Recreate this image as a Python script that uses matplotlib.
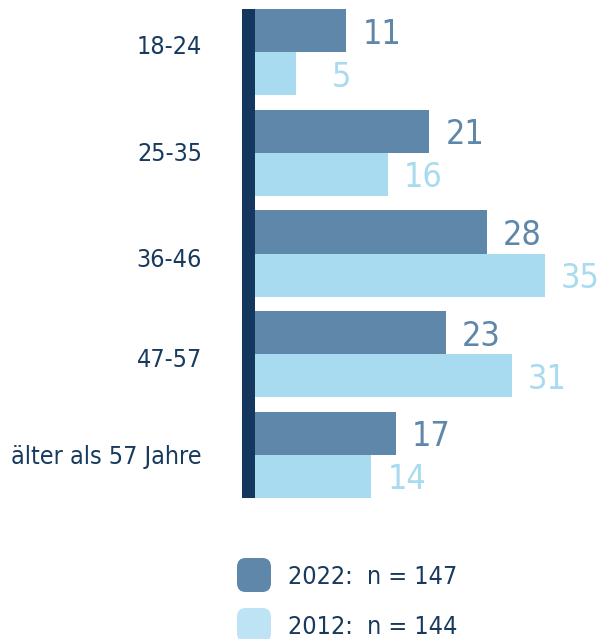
import matplotlib
matplotlib.use("Agg")
import matplotlib.pyplot as plt
from matplotlib.patches import Rectangle, FancyBboxPatch

plt.rcParams['font.family'] = ['DejaVu Sans']
plt.rcParams['font.stretch'] = 'condensed'

groups = ["18-24", "25-35", "36-46", "47-57", "älter als 57 Jahre"]
vals_2022 = [11, 21, 28, 23, 17]
vals_2012 = [5, 16, 35, 31, 14]
legend_labels = ["2022:  n = 147", "2012:  n = 144"]

c_2022 = "#5f87aa"
c_2012 = "#a8daf0"
c_2012_key = "#bde3f5"
navy = "#13375d"
text_col = "#183a5e"

W, H = 610, 639
fig = plt.figure(figsize=(W / 100, H / 100), dpi=100)

# plot area: value 0 sits at x=255px, bars span y=9..498px
px_per_unit = 290 / 35
bar_h = 0.427
ax = fig.add_axes([255 / W, 1 - 498 / H, (W - 255) / W, 489 / H])
ax.set_xlim(0, (W - 255) / px_per_unit)
ax.set_ylim(4 + bar_h, -bar_h)
ax.axis("off")

ypos = list(range(len(groups)))
ax.barh([y - bar_h / 2 for y in ypos], vals_2022, height=bar_h, color=c_2022)
ax.barh([y + bar_h / 2 for y in ypos], vals_2012, height=bar_h, color=c_2012)

pt = 0.72  # points per pixel at 100 dpi

# value labels, right-aligned a fixed distance past the bar end
for y, v in zip(ypos, vals_2022):
    ax.annotate(str(v), (v, y - bar_h / 2), xytext=(55 * pt, 0), textcoords="offset points",
                ha="right", va="center_baseline", fontsize=24.5, color=c_2022, annotation_clip=False)
for y, v in zip(ypos, vals_2012):
    ax.annotate(str(v), (v, y + bar_h / 2), xytext=(55 * pt, 0), textcoords="offset points",
                ha="right", va="center_baseline", fontsize=24.5, color=c_2012, annotation_clip=False)

# category labels left of the axis bar (small vertical nudges, in px)
label_nudge = [8, 1, -4, -3, 0]
for y, g, dy in zip(ypos, groups, label_nudge):
    ax.annotate(g, (0, y), xytext=(-53 * pt, dy * pt), textcoords="offset points",
                ha="right", va="center_baseline", fontsize=18, color=text_col, annotation_clip=False)

# thick vertical axis bar
fig.add_artist(Rectangle((242 / W, 1 - 498 / H), 13 / W, 489 / H,
                         transform=fig.transFigure, color=navy, lw=0))

# legend with rounded keys
for i, (lab, col) in enumerate(zip(legend_labels, [c_2022, c_2012_key])):
    top = 557 + i * 50
    key = FancyBboxPatch((237 / W, 1 - (top + 35) / H), 34 / W, 34 / H,
                         boxstyle="round,pad=0,rounding_size=0.014",
                         transform=fig.transFigure, color=col, lw=0)
    fig.add_artist(key)
    fig.text(288 / W, 1 - (top + 18) / H, lab, ha="left", va="center_baseline",
             fontsize=18, color=text_col)

fig.savefig("out.png", dpi=100)
